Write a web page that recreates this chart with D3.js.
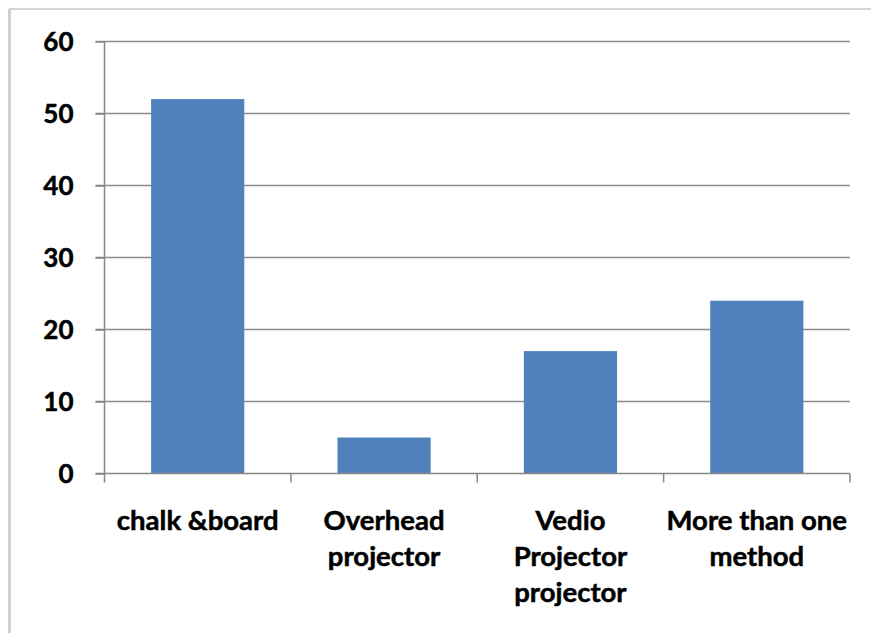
<!DOCTYPE html>
<html>
<head>
<meta charset="utf-8">
<script src="https://cdn.jsdelivr.net/npm/d3@7"></script>
<style>
  body { margin: 0; background: #fff; }
  svg text { font-family: Lato, "Open Sans", sans-serif; font-weight: bold; fill: #000; stroke: #000; stroke-width: 0.5px; }
</style>
</head>
<body>
<script>
var categories = [["chalk &board"], ["Overhead", "projector"], ["Vedio", "Projector", "projector"], ["More than one", "method"]];
var values = [52, 5, 17, 24];
var yTicks = [0, 10, 20, 30, 40, 50, 60];

var width = 871, height = 633;
var margin = {left: 104.5, right: 21, top: 41.5, bottom: 159.5};

var svg = d3.select("body").append("svg")
    .attr("width", width)
    .attr("height", height);

// chart frame (only top and left edges show)
svg.append("line").attr("x1", 9).attr("x2", width).attr("y1", 9).attr("y2", 9)
    .attr("stroke", "#d4d4d4").attr("stroke-width", 2);
svg.append("line").attr("x1", 9.5).attr("x2", 9.5).attr("y1", 9).attr("y2", height)
    .attr("stroke", "#d0d0d0").attr("stroke-width", 3);

var x = d3.scaleBand()
    .domain(d3.range(categories.length))
    .range([margin.left, width - margin.right])
    .paddingInner(0.5).paddingOuter(0.25);

var y = d3.scaleLinear()
    .domain([0, 60])
    .range([height - margin.bottom, margin.top]);

// gridlines
svg.append("g")
  .selectAll("line")
  .data(yTicks.slice(1))
  .enter().append("line")
    .attr("x1", margin.left - 9).attr("x2", width - margin.right)
    .attr("y1", function(d) { return y(d); })
    .attr("y2", function(d) { return y(d); })
    .attr("stroke", "#8a8a8a").attr("stroke-width", 1.5);

// bars
svg.append("g")
  .selectAll("rect")
  .data(values)
  .enter().append("rect")
    .attr("x", function(d, i) { return x(i); })
    .attr("width", x.bandwidth())
    .attr("y", function(d) { return y(d); })
    .attr("height", function(d) { return y(0) - y(d); })
    .attr("fill", "#4f81bd");

// y axis
var yAxis = svg.append("g")
    .attr("transform", "translate(" + margin.left + ",0)")
    .call(d3.axisLeft(y).tickValues(yTicks).tickSize(9).tickPadding(0));
yAxis.selectAll("path, line").attr("stroke", "#868686").attr("stroke-width", 1.5);
yAxis.select(".domain").attr("d", "M0," + y(60) + "V" + y(0));
yAxis.selectAll("text")
    .attr("x", -31)
    .attr("dy", "0.36em")
    .style("font-size", "26px")
    .style("font-family", "Lato, sans-serif")
    .style("font-weight", "bold");

// x axis
var bounds = d3.range(categories.length + 1).map(function(i) {
  return margin.left + i * x.step();
});
var xAxis = svg.append("g");
xAxis.append("line")
    .attr("x1", margin.left - 9).attr("x2", width - margin.right)
    .attr("y1", y(0)).attr("y2", y(0))
    .attr("stroke", "#868686").attr("stroke-width", 1.5);
xAxis.selectAll(".tk")
  .data(bounds)
  .enter().append("line")
    .attr("class", "tk")
    .attr("x1", function(d) { return d; }).attr("x2", function(d) { return d; })
    .attr("y1", y(0)).attr("y2", y(0) + 9)
    .attr("stroke", "#868686").attr("stroke-width", 1.5);

var labels = svg.append("g")
  .selectAll("text")
  .data(categories)
  .enter().append("text")
    .attr("text-anchor", "middle")
    .style("font-size", "27.5px");
labels.each(function(lines, i) {
  var t = d3.select(this);
  lines.forEach(function(s, j) {
    t.append("tspan")
      .attr("x", x(i) + x.bandwidth() / 2)
      .attr("y", 530 + j * 36)
      .text(s);
  });
});
</script>
</body>
</html>
